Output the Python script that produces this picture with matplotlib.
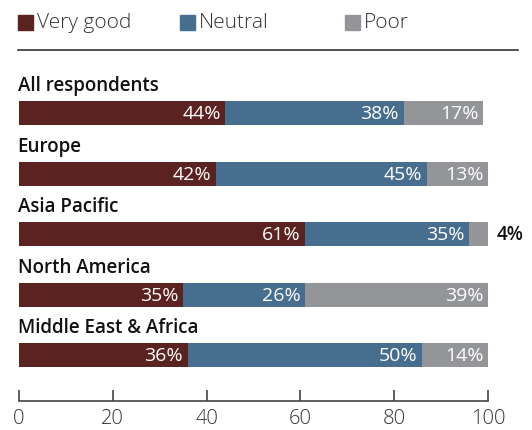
import numpy as np
import matplotlib.pyplot as plt
from matplotlib.patches import Rectangle
from matplotlib.lines import Line2D

# ---------------------------------------------------------------------------
# Datos
# ---------------------------------------------------------------------------
regions = ["All respondents", "Europe", "Asia Pacific", "North America",
           "Middle East & Africa"]
very_good = [44, 42, 61, 35, 36]
neutral = [38, 45, 35, 26, 50]
poor = [17, 13, 4, 39, 14]
series_names = ["Very good", "Neutral", "Poor"]
colors = ["#5a2220", "#476e8e", "#939598"]
x_ticks = [0, 20, 40, 60, 80, 100]

W, H = 532, 430
plt.rcParams["font.family"] = ["Open Sans", "DejaVu Sans"]

fig = plt.figure(figsize=(W / 100, H / 100), dpi=100)

# axes: x 0..100 -> px 19..488 ; y px 55..401
ax = fig.add_axes([19 / W, 1 - 401 / H, (488 - 19) / W, (401 - 55) / H])
ax.set_xlim(0, 100)
step = 60.5
ax.set_ylim(288 / step, -58 / step)

y = np.arange(len(regions))
bar_h = 24 / step
series = [very_good, neutral, poor]
left = np.zeros(len(regions))
for vals, col in zip(series, colors):
    vals = np.array(vals, dtype=float)
    ax.barh(y, vals, left=left, height=bar_h, color=col, edgecolor="none")
    right = left + vals
    for yi, v, r in zip(y, vals, right):
        if v >= 10:
            ax.text(r - 1.0, yi + 0.02, f"{int(v)}%", color="white",
                    ha="right", va="center", fontsize=14, fontweight="medium")
        else:
            ax.text(r + 1.8, yi + 0.02, f"{int(v)}%", color="#111111",
                    ha="left", va="center", fontsize=13.5,
                    fontweight="semibold", clip_on=False)
    left = right

# titulos de region encima de cada barra
for yi, name in zip(y, regions):
    ax.text(-0.3, yi - bar_h / 2 - 0.08, name, ha="left", va="bottom",
            fontsize=13.5, fontweight="semibold", color="#111111")

# ejes
for s in ("top", "right", "left"):
    ax.spines[s].set_visible(False)
ax.spines["bottom"].set_color("#444444")
ax.spines["bottom"].set_linewidth(1.2)
ax.set_yticks([])
ax.set_xticks(x_ticks)
ax.tick_params(axis="x", direction="in", length=8, width=1.2, color="#444444",
               labelsize=14.5, labelcolor="#333333", pad=6)
for lab in ax.get_xticklabels():
    lab.set_fontweight("light")

# leyenda manual
leg_x = [18, 180, 345]
for lx, name, col in zip(leg_x, series_names, colors):
    fig.patches.append(Rectangle((lx / W, 1 - 30 / H), 15 / W, 15 / H,
                                 transform=fig.transFigure, color=col))
    fig.text((lx + 19) / W, 1 - 23 / H, name, ha="left", va="center",
             fontsize=15, fontweight="light", color="#333333")

fig.lines.append(Line2D([18 / W, 518 / W], [1 - 50 / H, 1 - 50 / H],
                        transform=fig.transFigure, color="#333333", lw=1.2))

fig.savefig("out.png", dpi=100)
